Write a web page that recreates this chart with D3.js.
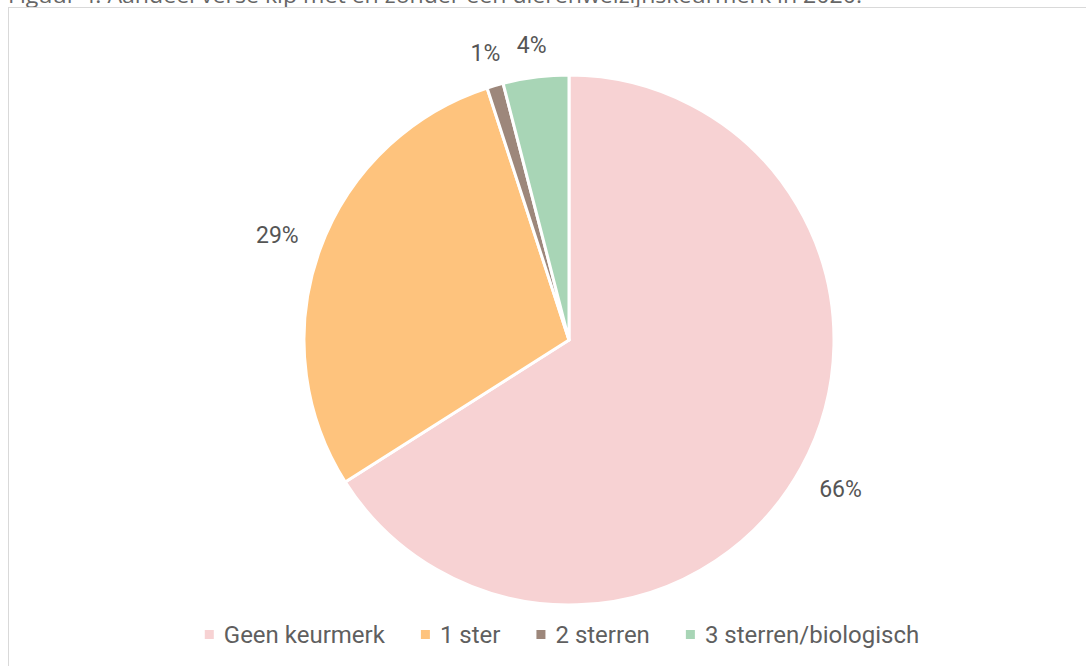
<!DOCTYPE html>
<html>
<head>
<meta charset="utf-8">
<title>Aandeel verse kip</title>
<style>
  html, body { margin: 0; padding: 0; background: #fff; }
  svg { display: block; }
</style>
</head>
<body>
<div id="chart"></div>
<script src="https://cdnjs.cloudflare.com/ajax/libs/d3/7.8.5/d3.min.js"></script>
<script>
// data
const categories = ["Geen keurmerk", "1 ster", "2 sterren", "3 sterren/biologisch"];
const shares = [66, 29, 1, 4];
const colors = ["#f7d2d3", "#fec37d", "#9d877b", "#a8d5b6"];
const title = "Figuur 4: Aandeel verse kip met en zonder een dierenwelzijnskeurmerk in 2020.";

const width = 1086, height = 666;
const cx = 569, cy = 340, radius = 265;

const svg = d3.select("#chart").append("svg")
  .attr("width", width)
  .attr("height", height);

// title, cut off at the top like in the screenshot
svg.append("text")
  .attr("x", 8)
  .attr("y", 3)
  .attr("textLength", 854)
  .attr("lengthAdjust", "spacingAndGlyphs")
  .style("font-family", "'Open Sans', sans-serif")
  .style("font-size", "22px")
  .style("fill", "#666")
  .text(title);

// chart frame
svg.append("rect")
  .attr("x", 8.5)
  .attr("y", 7.5)
  .attr("width", width + 10)
  .attr("height", height + 10)
  .attr("fill", "none")
  .attr("stroke", "#d9d9d9");

const data = categories.map((c, i) => ({ name: c, value: shares[i], color: colors[i] }));

const pie = d3.pie().value(d => d.value).sort(null);
const arc = d3.arc().innerRadius(0).outerRadius(radius);
const arcs = pie(data);

const g = svg.append("g").attr("transform", `translate(${cx},${cy})`);

g.selectAll("path")
  .data(arcs)
  .enter()
  .append("path")
  .attr("d", arc)
  .attr("fill", d => d.data.color)
  .attr("stroke", "#fff")
  .attr("stroke-width", 3)
  .attr("stroke-linejoin", "round");

// labels outside the slices, pushed out by half their box
const labels = g.selectAll("text.lbl")
  .data(arcs)
  .enter()
  .append("text")
  .attr("class", "lbl")
  .attr("text-anchor", "middle")
  .attr("dy", "0.35em")
  .style("font-family", "Roboto, sans-serif")
  .style("font-size", "23px")
  .style("fill", "#555")
  .text(d => d.data.value + "%");

labels.each(function(d) {
  const bb = this.getBBox();
  const a = (d.startAngle + d.endAngle) / 2;
  const ux = Math.sin(a), uy = -Math.cos(a);
  const half = Math.abs(ux) * bb.width / 2 + Math.abs(uy) * 17 / 2;
  const dist = radius + 22 + half;
  d3.select(this).attr("x", ux * dist).attr("y", uy * dist);
});

// legend
const legend = svg.append("g");
let lx = 0;
const gap = 36;
data.forEach((d, i) => {
  const item = legend.append("g").attr("transform", `translate(${lx},0)`);
  item.append("rect")
    .attr("x", 0).attr("y", -5)
    .attr("width", 9).attr("height", 9)
    .attr("fill", d.color);
  const t = item.append("text")
    .attr("x", 19)
    .attr("y", 0)
    .attr("dy", "0.35em")
    .style("font-family", "Roboto, sans-serif")
    .style("font-size", "24px")
    .style("fill", "#5f5f5f")
    .text(d.name);
  lx += 19 + t.node().getComputedTextLength() + gap;
});
lx -= gap;
legend.attr("transform", `translate(${562 - lx / 2},635)`);
</script>
</body>
</html>
